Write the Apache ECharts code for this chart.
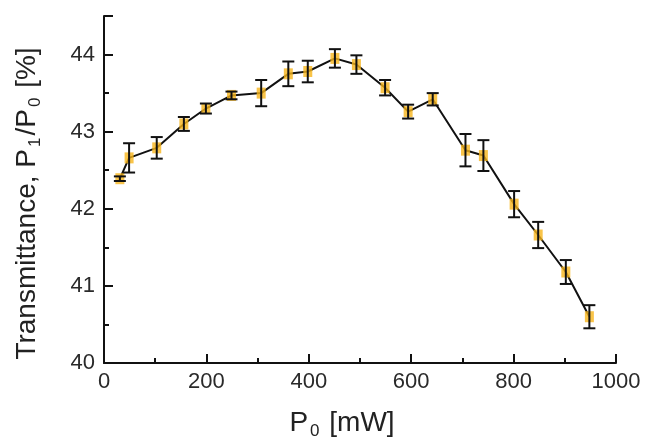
<!DOCTYPE html>
<html>
<head>
<meta charset="utf-8">
<script src="https://cdn.jsdelivr.net/npm/echarts@6/dist/echarts.min.js"></script>
<style>
  html, body { margin: 0; padding: 0; background: #fff; }
  #chart { width: 656px; height: 445px; }
</style>
</head>
<body>
<div id="chart"></div>
<script>
// power P0 [mW]
var power = [31, 49, 103, 156, 199, 249, 307, 360, 398, 451, 493, 549, 594, 642, 706, 741, 801, 848, 902, 948];
// transmittance [%]
var trans = [42.39, 42.66, 42.79, 43.10, 43.30, 43.47, 43.50, 43.75, 43.78, 43.95, 43.87, 43.57, 43.26, 43.42, 42.76, 42.69, 42.06, 41.66, 41.18, 40.60];
// half error bar
var errs = [0.03, 0.19, 0.14, 0.09, 0.065, 0.05, 0.17, 0.16, 0.14, 0.12, 0.12, 0.1, 0.09, 0.08, 0.21, 0.2, 0.17, 0.17, 0.155, 0.15];

var pts = power.map(function (p, i) { return [p, trans[i]]; });
var errData = power.map(function (p, i) { return [p, trans[i] - errs[i], trans[i] + errs[i]]; });

var chart = echarts.init(document.getElementById('chart'));
var font = '"Liberation Sans", Arial, sans-serif';
var titleRich = {
  a: { fontSize: 28, color: '#222', fontFamily: font },
  s: { fontSize: 17, color: '#222', fontFamily: font, padding: [16, 2, 0, 2] }
};

var option = {
  animation: false,
  grid: { left: 104, right: 40, top: 16, bottom: 81 },
  xAxis: {
    type: 'value',
    min: 0, max: 1000, interval: 200,
    name: '{a|P}{s|0}{a| [mW]}',
    nameLocation: 'middle',
    nameGap: 44,
    nameTextStyle: { rich: titleRich, padding: [0, 36, 0, 0] },
    axisLine: { lineStyle: { color: '#111', width: 2 } },
    axisTick: { inside: true, length: 9, lineStyle: { color: '#111', width: 2 } },
    minorTick: { show: true, splitNumber: 2, length: 5, lineStyle: { color: '#111', width: 2 } },
    axisLabel: {
      fontSize: 22, color: '#2a2a2a', fontFamily: font, margin: 8,
      formatter: function (v) { return String(v); }
    },
    splitLine: { show: false }
  },
  yAxis: {
    type: 'value',
    min: 40, max: 44.5, interval: 1,
    name: '{a|Transmittance, P}{s|1}{a|/P}{s|0}{a| [%]}',
    nameLocation: 'middle',
    nameGap: 60,
    nameTextStyle: { rich: titleRich, padding: [0, 28, 0, 0] },
    axisLine: { onZero: false, lineStyle: { color: '#111', width: 2 } },
    axisTick: { inside: true, length: 9, lineStyle: { color: '#111', width: 2 } },
    minorTick: { show: true, splitNumber: 2, length: 5, lineStyle: { color: '#111', width: 2 } },
    axisLabel: {
      fontSize: 22, color: '#2a2a2a', fontFamily: font, margin: 9,
      formatter: function (v) { return v % 1 === 0 ? String(v) : ''; }
    },
    splitLine: { show: false }
  },
  series: [
    {
      type: 'line',
      data: pts,
      showSymbol: false,
      lineStyle: { color: '#111', width: 2 },
      z: 2
    },
    {
      type: 'scatter',
      data: pts,
      symbol: 'rect',
      symbolSize: [9, 11],
      itemStyle: { color: '#F8B51C' },
      z: 3
    },
    {
      type: 'custom',
      data: errData,
      z: 4,
      renderItem: function (params, api) {
        var x = api.value(0);
        var lo = api.coord([x, api.value(1)]);
        var hi = api.coord([x, api.value(2)]);
        var cap = 6;
        var st = { stroke: '#111', lineWidth: 2 };
        return {
          type: 'group',
          children: [
            { type: 'line', shape: { x1: lo[0], y1: lo[1], x2: hi[0], y2: hi[1] }, style: st },
            { type: 'line', shape: { x1: lo[0] - cap, y1: lo[1], x2: lo[0] + cap, y2: lo[1] }, style: st },
            { type: 'line', shape: { x1: hi[0] - cap, y1: hi[1], x2: hi[0] + cap, y2: hi[1] }, style: st }
          ]
        };
      }
    }
  ]
};
chart.setOption(option);
</script>
</body>
</html>
